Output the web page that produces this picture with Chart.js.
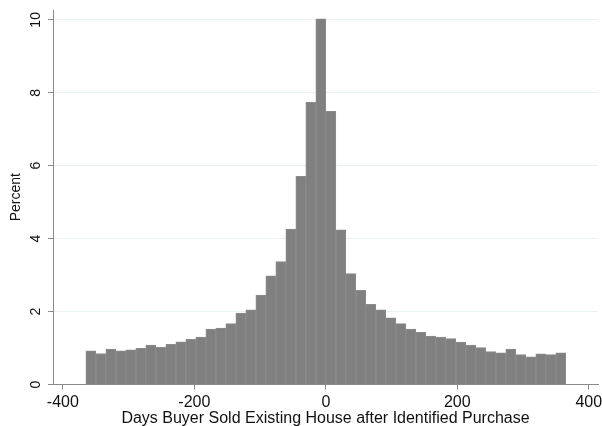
<!DOCTYPE html>
<html>
<head>
<meta charset="utf-8">
<script src="https://cdn.jsdelivr.net/npm/chart.js@4"></script>
<style>
  html, body { margin: 0; padding: 0; background: #fff; }
</style>
</head>
<body>
<canvas id="hist" width="602" height="426"></canvas>
<script>
// histogram bins: 48 bins of ~15.2 days from -365 to 365 (bin centres)
const binCenters = [
  -357.40, -342.19, -326.98, -311.77, -296.56, -281.35, -266.15, -250.94,
  -235.73, -220.52, -205.31, -190.10, -174.90, -159.69, -144.48, -129.27,
  -114.06, -98.85, -83.65, -68.44, -53.23, -38.02, -22.81, -7.60,
  7.60, 22.81, 38.02, 53.23, 68.44, 83.65, 98.85, 114.06,
  129.27, 144.48, 159.69, 174.90, 190.10, 205.31, 220.52, 235.73,
  250.94, 266.15, 281.35, 296.56, 311.77, 326.98, 342.19, 357.40
];
const percents = [
  0.92, 0.85, 0.97, 0.92, 0.95, 0.99, 1.08, 1.02,
  1.10, 1.17, 1.24, 1.30, 1.52, 1.55, 1.67, 1.96,
  2.05, 2.45, 2.98, 3.37, 4.26, 5.71, 7.74, 10.03,
  7.49, 4.24, 3.04, 2.58, 2.20, 2.05, 1.83, 1.67,
  1.52, 1.43, 1.33, 1.30, 1.26, 1.16, 1.08, 1.01,
  0.90, 0.87, 0.97, 0.82, 0.76, 0.84, 0.82, 0.87
];
const xTicks = [-400, -200, 0, 200, 400];
const yTicks = [0, 2, 4, 6, 8, 10];

const fontFamily = "'Liberation Sans', Arial, sans-serif";
const axisGray = "#8a8a8a";
const textColor = "#111111";

const ctx = document.getElementById("hist").getContext("2d");

const chart = new Chart(ctx, {
  type: "bar",
  data: {
    datasets: [
      {
        label: "Percent",
        data: binCenters.map((x, i) => ({ x: x, y: percents[i] })),
        backgroundColor: "#808080",
        borderColor: "#8b8b8b",
        borderWidth: 1,
        barPercentage: 1,
        categoryPercentage: 1,
      },
    ],
  },
  options: {
    responsive: false,
    animation: false,
    devicePixelRatio: 1,
    layout: { padding: { left: 0, right: 4, top: 10, bottom: 0 } },
    plugins: {
      legend: { display: false },
      tooltip: { enabled: false },
    },
    scales: {
      x: {
        type: "linear",
        min: -415,
        max: 414,
        offset: false,
        afterBuildTicks: (scale) => {
          scale.ticks = xTicks.map((v) => ({ value: v }));
        },
        grid: {
          display: true,
          drawOnChartArea: false,
          offset: false,
          tickLength: 5,
          tickColor: axisGray,
        },
        border: { color: axisGray, width: 1 },
        ticks: {
          autoSkip: false,
          maxRotation: 0,
          padding: 3,
          color: textColor,
          font: { family: fontFamily, size: 16 },
        },
        title: {
          display: true,
          text: "Days Buyer Sold Existing House after Identified Purchase",
          color: textColor,
          font: { family: fontFamily, size: 16, lineHeight: 1 },
          padding: { top: 0, bottom: -1 },
        },
        afterFit: (scale) => {
          scale.height = 41.5;
          scale.paddingLeft = 0;
          scale.paddingRight = 0;
        },
      },
      y: {
        min: 0,
        max: 10.27,
        afterBuildTicks: (scale) => {
          scale.ticks = yTicks.map((v) => ({ value: v }));
        },
        grid: {
          color: "#e9f1f3",
          tickColor: axisGray,
          tickLength: 5,
        },
        border: { color: axisGray, width: 1 },
        ticks: {
          minRotation: 90,
          maxRotation: 90,
          crossAlign: "center",
          padding: 4,
          color: textColor,
          font: { family: fontFamily, size: 14 },
        },
        title: {
          display: true,
          text: "Percent",
          color: textColor,
          font: { family: fontFamily, size: 14 },
          padding: { top: 8, bottom: 0 },
        },
        afterFit: (scale) => {
          scale.width = 53;
          scale.paddingTop = 0;
          scale.paddingBottom = 0;
        },
      },
    },
  },
});
</script>
</body>
</html>
